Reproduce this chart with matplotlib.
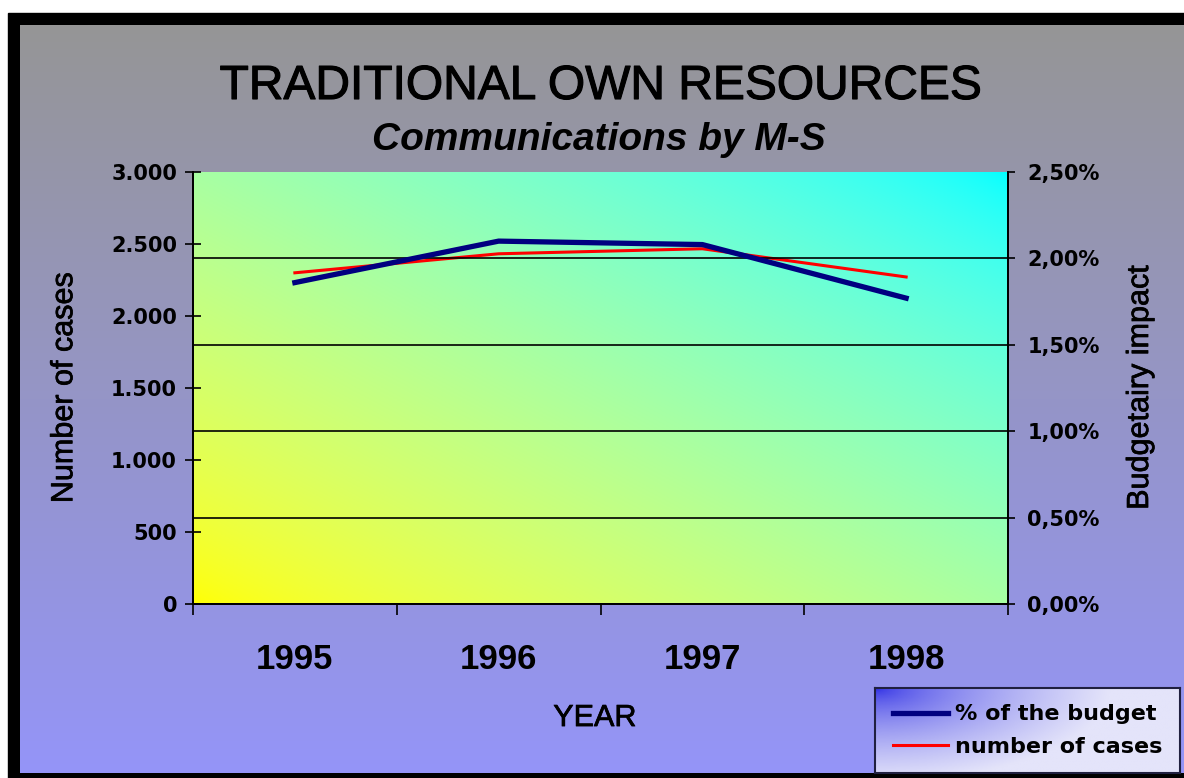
import numpy as np
import matplotlib
matplotlib.use('Agg')
import matplotlib.pyplot as plt
import matplotlib.patheffects as pe
from matplotlib.patches import Rectangle
from matplotlib.ticker import FuncFormatter, FixedLocator

# ---- data ----
years = ['1995', '1996', '1997', '1998']
cases = [2300, 2432, 2467, 2271]          # number of cases (left axis)
budget_pct = [1.86, 2.10, 2.08, 1.77]     # % of the budget (right axis)

W, H = 1184, 778
fig = plt.figure(figsize=(W / 100, H / 100), dpi=100)
fig.patch.set_facecolor('white')
heavy = [pe.withStroke(linewidth=0.5, foreground='black')]

# ---- background: black frame + gray->blue gradient ----
bg = fig.add_axes([0, 0, 1, 1], zorder=-10)
bg.axis('off')
bg.add_patch(Rectangle((8, 13), W, H, color='black'))
t = np.linspace(0, 1, 256)[:, None]
top = np.array([150, 150, 150]) / 255.
bot = np.array([148, 148, 248]) / 255.
grad = (top[None, None, :] * (1 - t[..., None]) + bot[None, None, :] * t[..., None])
bg.imshow(grad, extent=(20, W, 773, 25), aspect='auto', origin='upper', zorder=1)
bg.set_xlim(0, W)
bg.set_ylim(H, 0)

# ---- main axes ----
x = np.arange(len(years))
ax = fig.add_axes([193 / W, 1 - 604 / H, 815 / W, 432 / H])
ax.patch.set_alpha(0)
ax2 = ax.twinx()

# plot-area gradient yellow (bottom-left) -> pale green -> cyan (top-right)
n = 200
u, v = np.meshgrid(np.linspace(0, 1, n), np.linspace(0, 1, n))
s = (u + v) / 2.0
pg = np.zeros((n, n, 3))
pg[..., 0] = (1 - s) ** 0.6
pg[..., 1] = 1.0
pg[..., 2] = s ** 0.65
ax.imshow(pg, extent=(-0.5, 3.5, 0, 3000), origin='lower', aspect='auto', zorder=0)

red_line, = ax.plot(x, cases, color='#ff0000', lw=2.2, zorder=3, label='number of cases')
blue_line, = ax2.plot(x, budget_pct, color='#000080', lw=3.8, zorder=3, label='% of the budget')

ax.set_xlim(-0.5, 3.5)
ax.set_ylim(0, 3000)
ax2.set_ylim(0, 2.5)

ax.set_yticks(np.arange(0, 3001, 500))
ax2.set_yticks(np.arange(0, 2.51, 0.5))
ax.yaxis.set_major_formatter(FuncFormatter(lambda val, p: f"{val:,.0f}".replace(',', '.')))
ax2.yaxis.set_major_formatter(FuncFormatter(lambda val, p: f"{val:.2f}%".replace('.', ',')))

# x: ticks at category boundaries, labels at centres
ax.xaxis.set_major_locator(FixedLocator(np.arange(-0.5, 3.6, 1)))
ax.xaxis.set_major_formatter(FuncFormatter(lambda val, p: ''))
ax.set_xticks(x, years, minor=True)
ax.tick_params(axis='x', which='major', direction='out', length=8, width=1.2, color='black')
ax.tick_params(axis='x', which='minor', length=0, pad=28)
for lbl in ax.get_xticklabels(minor=True):
    lbl.set_fontfamily('Liberation Sans')
    lbl.set_fontweight('bold')
    lbl.set_fontsize(25)

ax.tick_params(axis='y', direction='inout', length=11, width=1.2, pad=6)
ax2.tick_params(axis='y', direction='out', length=5, width=1.2, pad=9)
for lbl in ax.get_yticklabels() + ax2.get_yticklabels():
    lbl.set_fontfamily('DejaVu Sans')
    lbl.set_fontweight('bold')
    lbl.set_fontsize(15)

# gridlines from the right axis
ax2.grid(axis='y', color='black', lw=1.2)
ax2.set_axisbelow(False)
for tk in ax2.yaxis.get_major_ticks():
    if tk.get_loc() > 2.4:
        tk.gridline.set_visible(False)

for a in (ax, ax2):
    a.spines['top'].set_visible(False)
    for sp in ('left', 'right', 'bottom'):
        a.spines[sp].set_color('black')
        a.spines[sp].set_linewidth(1.3)

# axis labels
ax.set_ylabel('Number of cases', fontsize=22, family='Liberation Sans', path_effects=heavy)
ax.yaxis.label.set(va='center', ha='center', rotation_mode='default')
ax.yaxis.set_label_coords(-0.158, 0.5)
ax2.set_ylabel('Budgetairy impact', fontsize=22, family='Liberation Sans', rotation=90,
               path_effects=heavy)
ax2.yaxis.label.set(va='center', ha='center', rotation_mode='default')
ax2.yaxis.set_label_coords(1.162, 0.5)
ax.set_xlabel('YEAR', fontsize=22, family='Liberation Sans', path_effects=heavy)
ax.xaxis.label.set(va='center', ha='center')
ax.xaxis.set_label_coords(0.493, -0.264)

# titles
fig.text(600 / W, 1 - 99 / H, 'TRADITIONAL OWN RESOURCES', ha='center', va='baseline',
         fontsize=34.5, family='Liberation Sans',
         path_effects=[pe.withStroke(linewidth=0.8, foreground='black')])
fig.text(599 / W, 1 - 150 / H, 'Communications by M-S', ha='center', va='baseline',
         fontsize=28, family='Liberation Sans', fontweight='bold', style='italic')

# ---- legend box with its own gradient ----
lax = fig.add_axes([875 / W, 5 / H, 305 / W, 85 / H], zorder=5)
lu, lv = np.meshgrid(np.linspace(0, 1, 200), np.linspace(0, 1, 60))
lt = np.clip(np.hypot(lu * 1.3, lv * 0.9), 0, 1) ** 0.6
c0 = np.array([40, 40, 228]) / 255.
c1 = np.array([228, 228, 250]) / 255.
lg = c0 * (1 - lt[..., None]) + c1 * lt[..., None]
lax.imshow(lg, extent=(0, 1, 0, 1), origin='upper', aspect='auto')
lax.set_xticks([])
lax.set_yticks([])
for sp in lax.spines.values():
    sp.set_color('#202040')
    sp.set_linewidth(1.5)
leg = lax.legend([blue_line, red_line], ['% of the budget', 'number of cases'],
                 loc='center', frameon=False, handlelength=2.5, handletextpad=0.3,
                 labelspacing=0.55, borderaxespad=0.0,
                 prop={'family': 'DejaVu Sans', 'weight': 'bold', 'size': 16})

fig.savefig('out.png', dpi=100)
